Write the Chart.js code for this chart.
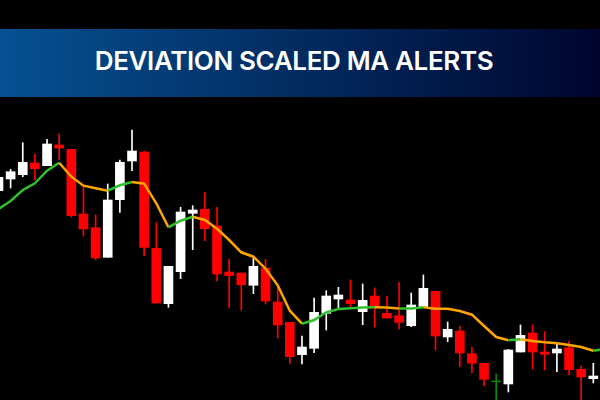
<!DOCTYPE html>
<html>
<head>
<meta charset="utf-8">
<title>Deviation Scaled MA Alerts</title>
<script src="https://cdn.jsdelivr.net/npm/chart.js@4"></script>
<style>
  html, body { margin: 0; padding: 0; background: #000; }
  #wrap { position: relative; width: 600px; height: 400px; overflow: hidden; }
  #banner {
    position: absolute; left: 0; top: 29px; width: 588px; height: 68px; padding-right: 12px;
    background: linear-gradient(90deg, #055192, #00052e);
    color: #fff; font: 600 26px Inter, sans-serif; letter-spacing: -0.36px;
    line-height: 64px; text-align: center;
  }
  canvas { position: absolute; left: 0; top: 0; }
</style>
</head>
<body>
<div id="wrap">
  <canvas id="chart" width="600" height="400"></canvas>
  <div id="banner">DEVIATION SCALED MA ALERTS</div>
</div>
<script>
// candles
const opens  = [209.3,221,225.3,237,234.3,255,250.7,186,172.3,142.7,200.3,239,248,151.7,96.3,128.3,186.7,190.7,174,128,127,114.7,132,98,77.7,45.3,51.7,86.7,101,100,88.3,104,86.7,84.3,74.3,93.3,108.7,63,69,46.3,36.7,19,16,48,67,48,47,52.3,30.7,21.3];
const closes = [222.7,228.3,237.7,231.3,256,252,184.3,171,142,200,237.7,249,152.7,97,133.7,188,190,171.3,126,124.3,115.3,133.7,99,75,43.3,53,87.7,104,105,96.3,99.7,94,82,77.7,95,111.7,64,70.7,47,36.7,20.7,18.3,50,64.7,48,45.7,51,30.3,23,24];
const highs  = [226,230.7,257.3,246,260.7,266,250.7,213.3,185,216,240,270,249,177.3,133.7,192.7,194.3,207.3,192.7,140.7,127,141.7,140.7,113.3,77.7,64,102,109.3,112.7,120,116,112,104,117.7,107,125,108.7,78,74,52.7,36.7,26,50.7,75,75,68.3,56.7,59,34,36.7];
const lows   = [205,212,223.3,220,234.3,240,183,164,140,142.7,187.7,229.3,144,97,92.7,121.3,150.3,159.3,119,92,90,106.3,96,62,36.7,36,47.3,70,91.7,92.3,75.3,73,82,71,73.3,93.3,50,58.3,33.3,27.3,14,0,8,48,30.7,30,28.3,25,0,17];

// moving average, one extra point past the right edge
const maValues = [191,199,210,216.7,229.3,237.3,223.3,214.3,211.7,209.3,214.7,218,216.3,196.7,172.7,179.3,183.3,180,171.3,160,147.7,143.3,131.3,114.7,89.3,76.3,80,87.7,91,91.7,92.5,92.7,92.5,91.4,91.6,92.7,91.3,91.2,89,85.3,74,63,59.7,60.7,59,57.7,56.7,55,53,49.3,51];

const maColors = { up: '#2fc02f', down: '#ffa500' };
const candleRed = '#ff0000', candleWhite = '#ffffff', candleGreen = '#0a8a0a';

const indexes = maValues.map((v, i) => i);

function candleColor(ctx) {
  const i = ctx.dataIndex;
  if (Math.abs(opens[i] - closes[i]) < 1) return candleGreen;
  return closes[i] > opens[i] ? candleWhite : candleRed;
}

new Chart(document.getElementById('chart').getContext('2d'), {
  type: 'bar',
  data: {
    datasets: [
      {
        type: 'line',
        data: maValues.map((v, i) => ({ x: indexes[i], y: v })),
        borderWidth: 2.5,
        pointRadius: 0,
        tension: 0,
        order: 0,
        segment: {
          borderColor: c => c.p1.parsed.y > c.p0.parsed.y ? maColors.up : maColors.down
        }
      },
      {
        data: opens.map((v, i) => ({ x: indexes[i], y: [v, closes[i]] })),
        backgroundColor: candleColor,
        barThickness: 9,
        grouped: false,
        order: 1
      },
      {
        data: lows.map((v, i) => ({ x: indexes[i], y: [v, highs[i]] })),
        backgroundColor: candleColor,
        barThickness: 1,
        grouped: false,
        order: 2
      }
    ]
  },
  options: {
    responsive: false,
    animation: false,
    layout: { padding: 0 },
    plugins: { legend: { display: false }, tooltip: { enabled: false } },
    scales: {
      x: { type: 'linear', display: false, offset: false, min: 0.125, max: 49.55 },
      y: { type: 'linear', display: false, min: 0, max: 400 }
    }
  }
});
</script>
</body>
</html>
